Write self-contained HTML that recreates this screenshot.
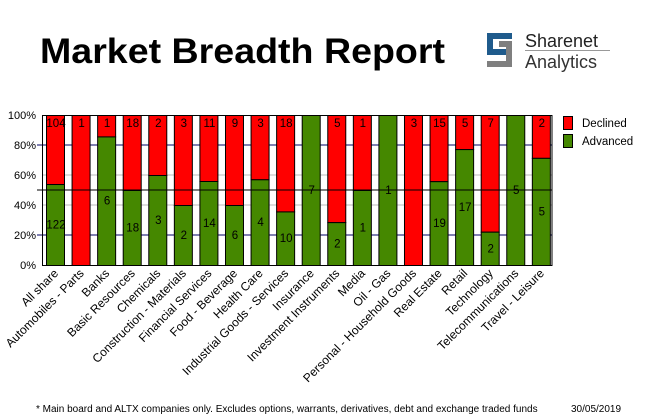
<!DOCTYPE html>
<html><head><meta charset="utf-8"><style>
html,body{margin:0;padding:0;background:#fff}
svg{display:block;font-family:"Liberation Sans",sans-serif}
</style></head><body>
<svg width="655" height="420" viewBox="0 0 655 420" xmlns="http://www.w3.org/2000/svg">
<text x="40" y="63" font-size="35" font-weight="bold" textLength="405" lengthAdjust="spacingAndGlyphs">Market Breadth Report</text>
<g>
<path d="M487 33H512V39H493V49H508V55H487Z" fill="#1f5b8c"/>
<path d="M499 41H512V67H487V61H506V47H499Z" fill="#7f7f7f"/>
<text x="525" y="47" font-size="18" fill="#222">Sharenet</text>
<rect x="525" y="50" width="85" height="1" fill="#999"/>
<text x="525" y="68" font-size="18" fill="#333">Analytics</text>
</g>
<g>
<line x1="37" y1="235" x2="552" y2="235" stroke="#000066"/>
<line x1="37" y1="145" x2="552" y2="145" stroke="#000066"/>
<line x1="42" y1="205" x2="552" y2="205" stroke="#bbb"/>
<line x1="42" y1="175" x2="552" y2="175" stroke="#bbb"/>
</g>
<g id="bars" stroke="#000" stroke-width="1"></g>
<line x1="37" y1="190" x2="552" y2="190" stroke="#000"/>
<rect x="42.5" y="115.5" width="509.5" height="150" fill="none" stroke="#000"/>
<g font-size="11" text-anchor="end" fill="#000">
<text x="36" y="119">100%</text><text x="36" y="149">80%</text><text x="36" y="179">60%</text>
<text x="36" y="209">40%</text><text x="36" y="239">20%</text><text x="36" y="269">0%</text>
</g>
<g id="vals" font-size="11.5" text-anchor="middle"></g>
<g id="cats" font-size="12" text-anchor="end"></g>
<rect x="563.5" y="116.5" width="9" height="13" fill="#ff0000" stroke="#000"/>
<rect x="563.5" y="134.5" width="9" height="13" fill="#458800" stroke="#000"/>
<text x="582" y="127" font-size="11.5">Declined</text>
<text x="582" y="145" font-size="11.5">Advanced</text>
<text x="36" y="412" font-size="10">* Main board and ALTX companies only. Excludes options, warrants, derivatives, debt and exchange traded funds</text>
<text x="571" y="412" font-size="10">30/05/2019</text>
</svg>
<script>
var d=[["All share",122,104],["Automobiles - Parts",0,1],["Banks",6,1],["Basic Resources",18,18],["Chemicals",3,2],["Construction - Materials",2,3],["Financial Services",14,11],["Food - Beverage",6,9],["Health Care",4,3],["Industrial Goods - Services",10,18],["Insurance",7,0],["Investment Instruments",2,5],["Media",1,1],["Oil - Gas",1,0],["Personal - Household Goods",0,3],["Real Estate",19,15],["Retail",17,5],["Technology",2,7],["Telecommunications",5,0],["Travel - Leisure",5,2]];
var ns="http://www.w3.org/2000/svg";
function el(p,t,a,txt){var e=document.createElementNS(ns,t);for(var k in a)e.setAttribute(k,a[k]);if(txt!=null)e.textContent=txt;document.getElementById(p).appendChild(e);}
d.forEach(function(r,i){
 var x=46+i*25.57,w=18,a=r[1],dc=r[2],f=a/(a+dc),gy=265-150*f,cx=x+w/2;
 if(dc>0)el("bars","rect",{x:x+.5,y:115.5,width:w,height:gy-115,fill:"#ff0000"});
 if(a>0)el("bars","rect",{x:x+.5,y:gy+.5,width:w,height:265-gy,fill:"#458800"});
 if(dc>0)el("vals","text",{x:cx+1,y:127},dc);
 if(a>0)el("vals","text",{x:cx+1,y:(gy+265)/2+4},a);
 el("cats","text",{x:0,y:0,transform:"translate("+(cx+4)+",274) rotate(-45)"},r[0]);
});
</script>
</body></html>
